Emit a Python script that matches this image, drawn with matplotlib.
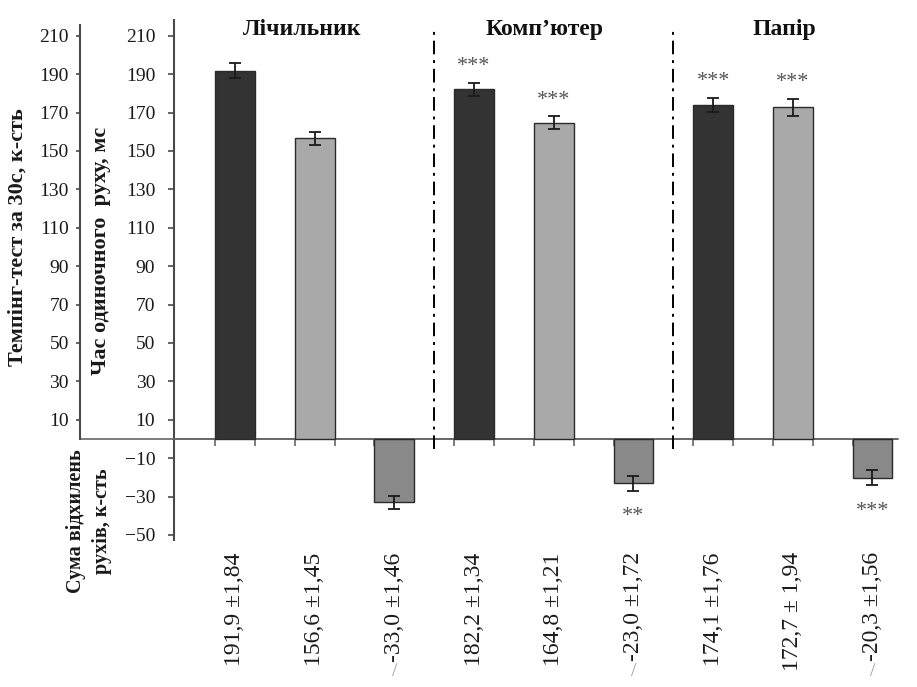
import matplotlib
matplotlib.use('Agg')
import matplotlib.pyplot as plt
import numpy as np

plt.rcParams['font.family'] = ['Liberation Serif', 'DejaVu Serif']

# ---- data ----
groups = ['Лічильник', 'Комп’ютер', 'Папір']
values = [191.9, 156.6, -33.0, 182.2, 164.8, -23.0, 174.1, 172.7, -20.3]
errors = [3.9, 3.4, 3.4, 3.4, 3.4, 3.9, 3.6, 4.4, 3.9]
value_labels = ['191,9 ±1,84', '156,6 ±1,45', '-33,0 ±1,46',
                '182,2 ±1,34', '164,8 ±1,21', '-23,0 ±1,72',
                '174,1 ±1,76', '172,7 ± 1,94', '-20,3 ±1,56']
significance = ['', '', '', '***', '***', '**', '***', '***', '***']
bar_colors = ['#333333', '#a9a9a9', '#898989'] * 3
main_ticks = list(range(-50, 211, 20))
left_ticks = list(range(10, 211, 20))
ylabel_tempo = 'Темпінг-тест за 30с, к-сть'
ylabel_time = 'Час одиночного  руху, мс'
ylabel_dev = 'Сума відхилень\nрухів, к-сть'

W, H = 917, 687
fig = plt.figure(figsize=(W / 100, H / 100), dpi=100)

ylim = (-52.5, 218)
ax_bottom = 1 - 539.8 / H
ax_height = (539.8 - 20.4) / H

spine_col = '#4a4a4a'
text_col = '#1a1a1a'

# outer left axis (tempo test)
ax2 = fig.add_axes([80 / W, ax_bottom, (898 - 80) / W, ax_height])
ax2.set_xlim(0, 1)
ax2.set_ylim(*ylim)
for s in ['top', 'right', 'bottom']:
    ax2.spines[s].set_visible(False)
ax2.spines['left'].set_bounds(0, 215.5)
ax2.spines['left'].set_color(spine_col)
ax2.spines['left'].set_linewidth(1.5)
ax2.set_xticks([])
ax2.set_yticks(left_ticks)
ax2.tick_params(axis='y', direction='out', length=3, width=1.2, color=spine_col,
                labelsize=14, labelcolor=text_col, pad=5)
ax2.axhline(0, color='#666666', lw=1.2)

# main axis
ax = fig.add_axes([174 / W, ax_bottom, (898 - 174) / W, ax_height])
ax.patch.set_alpha(0)
x = np.arange(len(values))
ax.bar(x, values, width=0.5, color=bar_colors, edgecolor='#2a2a2a', linewidth=1.0,
       yerr=errors, error_kw=dict(ecolor='#1a1a1a', elinewidth=1.3, capsize=4, capthick=1.3),
       zorder=3)
ax.set_xlim(-0.765, 8.32)
ax.set_ylim(*ylim)
for s in ['top', 'right']:
    ax.spines[s].set_visible(False)
ax.spines['bottom'].set_position(('data', 0))
ax.spines['bottom'].set_color('#666666')
ax.spines['bottom'].set_linewidth(1.2)
ax.spines['left'].set_color(spine_col)
ax.spines['left'].set_linewidth(1.5)
edges = np.sort(np.concatenate([x - 0.25, x + 0.25]))
ax.set_xticks(edges)
ax.set_xticklabels([])
ax.tick_params(axis='x', direction='out', length=5, width=1.2, color='#666666')
ax.set_yticks(main_ticks)
ax.tick_params(axis='y', direction='out', length=4.5, width=1.2, color=spine_col,
               labelsize=14, labelcolor=text_col, pad=9)

# group separators
for sx in [2.5, 5.5]:
    ax.plot([sx, sx], [-5, 213], color='black', lw=1.4,
            linestyle=(0, (7, 3, 1.5, 3)), zorder=4, clip_on=False)

# group titles
for gx, g in zip([0.84, 3.88, 6.90], groups):
    ax.text(gx, 210.5, g, ha='center', va='baseline', fontsize=17, fontweight='bold',
            color='#111111', clip_on=False)

# significance stars
for i, (v, e, s) in enumerate(zip(values, errors, significance)):
    if not s:
        continue
    if v > 0:
        yy = v + e + 11 - 5.0
    else:
        yy = v - e - 11 - 5.0
    ax.text(i, yy, s, ha='center', va='baseline', fontsize=16, color='#555555')

# value labels under the axis
for i, (v, lab) in enumerate(zip(values, value_labels)):
    t = ax.text(i, -59, lab, rotation=90, ha='center', va='top', fontsize=17,
                color=text_col, clip_on=False)
    if v < 0:
        ax.annotate('/', xy=(0.5, 0), xycoords=t, xytext=(0, -1),
                    textcoords='offset points', ha='center', va='top',
                    fontsize=14, color='#a0a0a0')

# y labels
fig.text(18 / W, 1 - 237 / H, ylabel_tempo, rotation=90, ha='center', va='center',
         fontsize=16, fontweight='bold', color=text_col)
fig.text(101 / W, 1 - 251 / H, ylabel_time, rotation=90, ha='center', va='center',
         fontsize=16, fontweight='bold', color=text_col)
fig.text(89 / W, 1 - 521 / H, ylabel_dev, rotation=90, ha='center', va='center',
         multialignment='center', linespacing=1.45, fontsize=14.5,
         fontweight='bold', color=text_col)

fig.savefig('out.png', dpi=100)
